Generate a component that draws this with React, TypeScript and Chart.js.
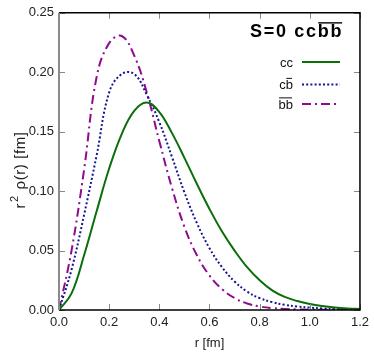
import React, { useEffect, useRef } from 'react';
import { Chart, registerables } from 'chart.js';

Chart.register(...registerables);

const rValues = [0, 0.05, 0.1, 0.15, 0.2, 0.25, 0.3, 0.35, 0.4, 0.45, 0.5, 0.55, 0.6, 0.65, 0.7, 0.75, 0.8, 0.85, 0.9, 0.95, 1.0, 1.05, 1.1, 1.15, 1.2];
const ccValues = [0, 0.014, 0.046, 0.083, 0.119, 0.148, 0.1675, 0.1745, 0.1665, 0.149, 0.128, 0.106, 0.085, 0.066, 0.05, 0.036, 0.025, 0.0165, 0.011, 0.0075, 0.005, 0.0033, 0.0021, 0.0013, 0.0008];
const cbValues = [0, 0.034, 0.08, 0.13, 0.183, 0.1985, 0.1985, 0.181, 0.158, 0.129, 0.099, 0.073, 0.052, 0.036, 0.024, 0.0155, 0.01, 0.0066, 0.0044, 0.003, 0.002, 0.0013, 0.0009, 0.0006, 0.0004];
const bbValues = [0, 0.05, 0.118, 0.196, 0.2245, 0.2305, 0.214, 0.183, 0.142, 0.103, 0.07, 0.046, 0.029, 0.0175, 0.01, 0.0055, 0.003, 0.0016, 0.0009, 0.0005, 0.0003, 0.0002, 0.0001, 0.00005, 0];

const xTicks = [0, 0.2, 0.4, 0.6, 0.8, 1.0, 1.2];
const yTicks = [0, 0.05, 0.1, 0.15, 0.2, 0.25];

const titlePlain = 'S=0 cc';
const titleOver = 'bb';
// legend labels: plain part followed by overlined part
const legendPlain = ['cc', 'c', ''];
const legendOver = ['', 'b', 'bb'];
// y-axis title pieces: base, superscript, rest
const yTitleBase = 'r';
const yTitleSup = '2';
const yTitleRest = ' ρ(r) [fm]';

const colors = ['#0b6e0b', '#15158f', '#8e0a8e'];
const dashes: number[][] = [[], [2, 2.2], [9, 4, 2, 4]];

const FONT = '"Liberation Sans", Arial, sans-serif';

function drawOverText(ctx: CanvasRenderingContext2D, plain: string, over: string, rightX: number | null, leftX: number | null, baseline: number, size: number, overGap: number) {
  const wPlain = ctx.measureText(plain).width;
  const wOver = ctx.measureText(over).width;
  const total = wPlain + wOver;
  const x0 = leftX !== null ? leftX : (rightX as number) - total;
  ctx.textAlign = 'left';
  ctx.textBaseline = 'alphabetic';
  ctx.fillText(plain, x0, baseline);
  ctx.fillText(over, x0 + wPlain, baseline);
  if (over) {
    const y = baseline - size * 0.74 - overGap;
    ctx.fillRect(x0 + wPlain + 0.5, y, wOver - 1.5, Math.max(1, size / 13));
  }
}

const framePlugin = {
  id: 'framePlugin',
  afterDatasetsDraw(chart: any) {
    const { ctx, chartArea: a, scales } = chart;
    const xs = scales.x;
    const ys = scales.y;
    ctx.save();
    // inward tick marks on all four sides
    ctx.strokeStyle = '#8a8a8a';
    ctx.lineWidth = 1;
    ctx.beginPath();
    for (const t of xTicks) {
      const px = Math.round(xs.getPixelForValue(t)) + 0.5;
      ctx.moveTo(px, a.bottom);
      ctx.lineTo(px, a.bottom - 6);
      ctx.moveTo(px, a.top);
      ctx.lineTo(px, a.top + 6);
    }
    for (const t of yTicks) {
      const py = Math.round(ys.getPixelForValue(t)) + 0.5;
      ctx.moveTo(a.left, py);
      ctx.lineTo(a.left + 6, py);
      ctx.moveTo(a.right, py);
      ctx.lineTo(a.right - 6, py);
    }
    ctx.stroke();
    // frame
    ctx.strokeStyle = '#000';
    ctx.lineWidth = 1.5;
    ctx.beginPath();
    ctx.moveTo(a.left, a.top);
    ctx.lineTo(a.right, a.top);
    ctx.lineTo(a.right, a.bottom);
    ctx.lineTo(a.left, a.bottom);
    ctx.stroke();
    ctx.strokeStyle = '#8a8a8a';
    ctx.lineWidth = 2;
    ctx.beginPath();
    ctx.moveTo(a.left, a.top);
    ctx.lineTo(a.left, a.bottom);
    ctx.stroke();

    // y-axis title (rotated), gnuplot-style superscript
    ctx.save();
    ctx.translate(25, 170);
    ctx.rotate(-Math.PI / 2);
    ctx.fillStyle = '#222';
    ctx.textBaseline = 'alphabetic';
    ctx.textAlign = 'left';
    (ctx as any).letterSpacing = '0.6px';
    ctx.font = '15px ' + FONT;
    const wb = ctx.measureText(yTitleBase).width;
    const wr = ctx.measureText(yTitleRest).width;
    ctx.font = '11px ' + FONT;
    const ws = ctx.measureText(yTitleSup).width;
    const total = wb + ws + 2 + wr;
    let x = -total / 2;
    ctx.font = '15px ' + FONT;
    ctx.fillText(yTitleBase, x, 0);
    x += wb + 1;
    ctx.font = '11px ' + FONT;
    ctx.fillText(yTitleSup, x, -7);
    x += ws + 1;
    ctx.font = '15px ' + FONT;
    ctx.fillText(yTitleRest, x, 0);
    (ctx as any).letterSpacing = '0px';
    ctx.restore();

    // title
    ctx.fillStyle = '#000';
    ctx.font = 'bold 18px ' + FONT;
    (ctx as any).letterSpacing = '1.7px';
    drawOverText(ctx, titlePlain, titleOver, null, 250, 36.5, 18, 1);
    (ctx as any).letterSpacing = '0px';

    // legend
    const rows = [62, 84.5, 104];
    ctx.font = '13px ' + FONT;
    for (let i = 0; i < 3; i++) {
      ctx.fillStyle = '#111';
      drawOverText(ctx, legendPlain[i], legendOver[i], 293, null, rows[i] + 4.5, 13, 1.5);
      ctx.strokeStyle = colors[i];
      ctx.lineWidth = 2;
      ctx.setLineDash(dashes[i]);
      ctx.beginPath();
      ctx.moveTo(302, rows[i]);
      ctx.lineTo(340, rows[i]);
      ctx.stroke();
    }
    ctx.setLineDash([]);
    ctx.restore();
  },
};

export default function App() {
  const ref = useRef<HTMLCanvasElement>(null);
  useEffect(() => {
    const canvas = ref.current;
    if (!canvas) return;
    const mk = (vals: number[], i: number) => ({
      data: rValues.map((r, k) => ({ x: r, y: vals[k] })),
      borderColor: colors[i],
      borderWidth: 2,
      borderDash: dashes[i],
      pointRadius: 0,
      tension: 0.4,
      fill: false,
    });
    const chart = new Chart(canvas, {
      type: 'line',
      data: {
        datasets: [mk(ccValues, 0), mk(cbValues, 1), mk(bbValues, 2)],
      },
      options: {
        animation: false,
        responsive: false,
        devicePixelRatio: 1,
        layout: { padding: { top: 5, right: 10, left: 0, bottom: 0 } },
        plugins: { legend: { display: false }, tooltip: { enabled: false }, title: { display: false } },
        scales: {
          x: {
            type: 'linear',
            min: 0,
            max: 1.2,
            grid: { display: false, drawTicks: false },
            border: { display: false },
            afterFit: (s: any) => { s.height = 45; },
            afterBuildTicks: (s: any) => { s.ticks = xTicks.map((v) => ({ value: v })); },
            ticks: {
              padding: 5,
              color: '#222',
              font: { family: FONT, size: 13 },
              callback: (v: any) => Number(v).toFixed(1),
              maxRotation: 0,
            },
            title: {
              display: true,
              text: 'r [fm]',
              color: '#222',
              font: { family: FONT, size: 13 },
              padding: { top: 0, bottom: 4 },
            },
          },
          y: {
            type: 'linear',
            min: 0,
            max: 0.25,
            grid: { display: false, drawTicks: false },
            border: { display: false },
            afterFit: (s: any) => { s.width = 59; },
            afterBuildTicks: (s: any) => { s.ticks = yTicks.map((v) => ({ value: v })); },
            ticks: {
              padding: 5,
              color: '#222',
              font: { family: FONT, size: 13 },
              callback: (v: any) => Number(v).toFixed(2),
            },
          },
        },
      },
      plugins: [framePlugin],
    });
    return () => chart.destroy();
  }, []);
  return (
    <div style={{ position: 'fixed', left: 0, top: 0, width: 374, height: 355, background: '#fff' }}>
      <canvas ref={ref} width={374} height={355} style={{ width: 374, height: 355, display: 'block' }} />
    </div>
  );
}
